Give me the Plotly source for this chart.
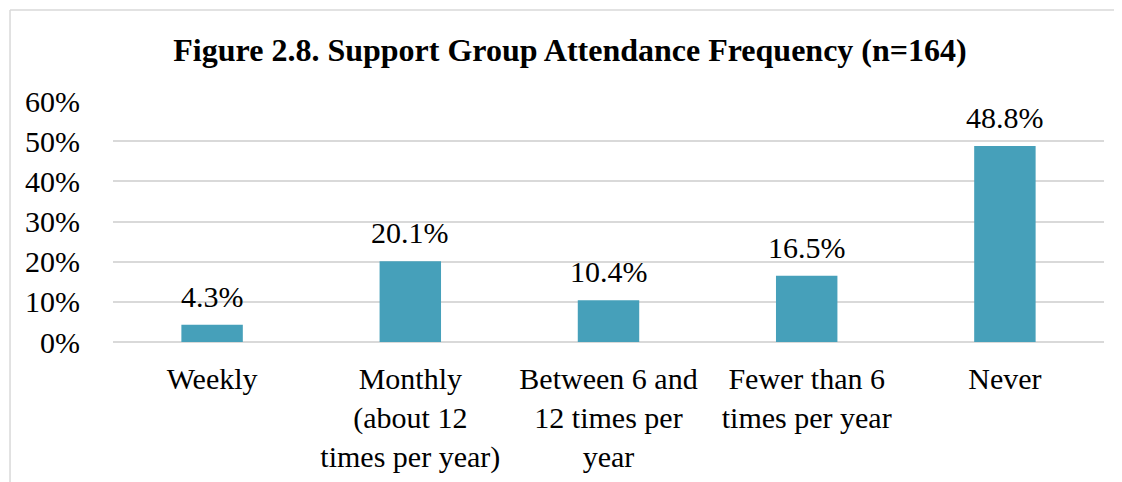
import plotly.graph_objects as go

categories = [
    "Weekly",
    "Monthly<br>(about 12<br>times per year)",
    "Between 6 and<br>12 times per<br>year",
    "Fewer than 6<br>times per year",
    "Never",
]
shares = [0.043, 0.201, 0.104, 0.165, 0.488]
value_labels = ["4.3%", "20.1%", "10.4%", "16.5%", "48.8%"]
y_ticks = [0, 0.1, 0.2, 0.3, 0.4, 0.5, 0.6]

serif = "Liberation Serif, Times New Roman, serif"
bar_color = "#46A0BA"
grid_color = "#D9D9D9"

fig = go.Figure(go.Bar(x=categories, y=shares, marker=dict(color=bar_color, line=dict(width=0)),
                       width=0.31, hoverinfo="x+y"))

# value labels sitting above each bar
for cat, val, lab in zip(categories, shares, value_labels):
    fig.add_annotation(x=cat, y=val, text=lab, showarrow=False, yanchor="bottom", yshift=10,
                       font=dict(family=serif, size=30, color="#000000"))

# page body has an 8px margin, so the figure is a bit smaller than the window
fig.update_layout(
    width=1114, height=474,
    margin=dict(l=105, r=18, t=93, b=140),
    paper_bgcolor="white", plot_bgcolor="white",
    showlegend=False,
    font=dict(family=serif, size=30, color="#000000"),
    title=dict(text="<b>Figure 2.8. Support Group Attendance Frequency (n=164)</b>",
               font=dict(family=serif, size=32, color="#000000"),
               x=0.5045, xref="container", xanchor="center",
               y=1 - 42 / 474, yref="container", yanchor="middle"),
)
fig.update_yaxes(range=[0, 0.6], tickvals=y_ticks, tickformat=".0%", showgrid=True,
                 gridcolor=grid_color, gridwidth=1.5, zeroline=True, zerolinecolor=grid_color,
                 zerolinewidth=1.5, showline=False, ticks="", ticklabelstandoff=32,
                 tickfont=dict(size=30), fixedrange=True)
fig.update_xaxes(showline=False, ticks="", tickangle=0, ticklabelstandoff=16,
                 tickfont=dict(size=30), fixedrange=True, automargin=False)

# chart frame (left and top edges visible in the cropped image)
fig.add_shape(type="line", xref="paper", yref="paper", x0=-0.1039, x1=-0.1039, y0=-0.7, y1=1.3776,
              line=dict(color=grid_color, width=1.5))
fig.add_shape(type="line", xref="paper", yref="paper", x0=-0.1039, x1=1.1, y0=1.3776, y1=1.3776,
              line=dict(color=grid_color, width=1.5))

fig.write_html("out.html", config={"displayModeBar": False})
